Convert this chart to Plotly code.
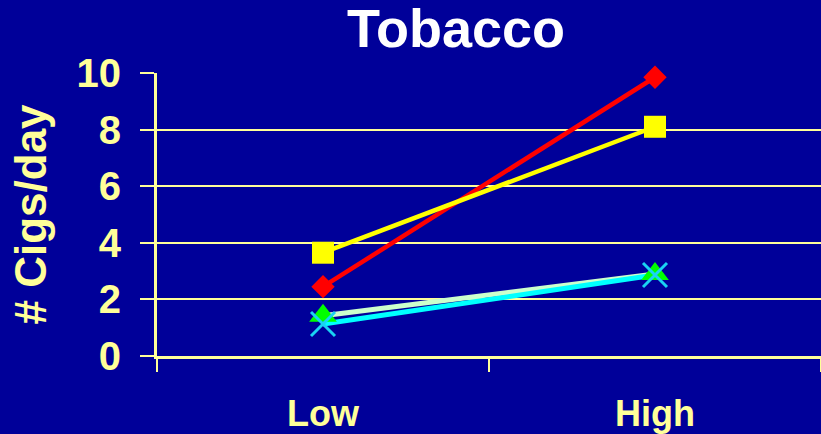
import plotly.graph_objects as go

# Data
categories = ["Low", "High"]
series_red = [2.45, 9.85]
series_yellow = [3.65, 8.1]
series_green = [1.42, 2.9]
series_cyan = [1.13, 2.86]
y_ticks = [0, 2, 4, 6, 8, 10]

BG = "#000099"
PALE = "#ffff99"
FONT = "Liberation Sans, Arial, sans-serif"

fig = go.Figure()

fig.add_trace(go.Scatter(
    x=categories, y=series_red, mode="lines+markers",
    line=dict(color="#ff0000", width=4.5),
    marker=dict(symbol="diamond", size=18, color="#ff0000"),
    cliponaxis=False,
))
fig.add_trace(go.Scatter(
    x=categories, y=series_yellow, mode="lines+markers",
    line=dict(color="#ffff00", width=4.5),
    marker=dict(symbol="square", size=22, color="#ffff00"),
    cliponaxis=False,
))
fig.add_trace(go.Scatter(
    x=categories, y=series_green, mode="lines",
    line=dict(color="#ccffcc", width=5),
    cliponaxis=False,
))
fig.add_trace(go.Scatter(
    x=categories, y=series_cyan, mode="lines",
    line=dict(color="#00ffff", width=5),
    cliponaxis=False,
))
# Markers of the two lower series, drawn above both lines
fig.add_trace(go.Scatter(
    x=categories, y=series_green, mode="markers",
    marker=dict(symbol="triangle-up", size=24, color="#00ff00"),
    cliponaxis=False,
))
fig.add_trace(go.Scatter(
    x=categories, y=series_cyan, mode="markers",
    marker=dict(symbol="x-thin-open", size=24,
                line=dict(color="#00ffff", width=3)),
    cliponaxis=False,
))

fig.update_layout(
    width=821, height=434,
    margin=dict(l=157, r=0, t=73, b=78),
    paper_bgcolor=BG, plot_bgcolor=BG,
    showlegend=False,
    font=dict(family=FONT, color=PALE),
    title=dict(
        text="Tobacco",
        font=dict(family=FONT, size=54, color="#ffffff", weight="bold"),
        x=456 / 821, xanchor="center", xref="container",
        y=1 - 28 / 434, yanchor="middle", yref="container",
    ),
    xaxis=dict(
        type="category", range=[-0.5, 1.5],
        showgrid=False, zeroline=False,
        showline=True, linecolor=PALE, linewidth=3,
        ticks="outside", tickson="boundaries", ticklen=13,
        tickcolor=PALE, tickwidth=2,
        tickfont=dict(family=FONT, size=36, color=PALE, weight="bold"),
        ticklabelstandoff=24,
    ),
    yaxis=dict(
        range=[0, 10], tickvals=y_ticks,
        showgrid=True, gridcolor=PALE, gridwidth=2,
        zeroline=False,
        showline=True, linecolor=PALE, linewidth=3,
        ticks="outside", ticklen=14, tickcolor=PALE, tickwidth=2,
        tickfont=dict(family=FONT, size=40, color=PALE, weight="bold"),
        ticklabelstandoff=11,
    ),
    annotations=[dict(
        text="# Cigs/day", textangle=-90,
        xref="paper", yref="paper",
        x=(30 - 157) / 664, y=0.5,
        xanchor="center", yanchor="middle",
        showarrow=False,
        font=dict(family=FONT, size=44, color=PALE, weight="bold"),
    )],
)

fig.write_html("out.html")
